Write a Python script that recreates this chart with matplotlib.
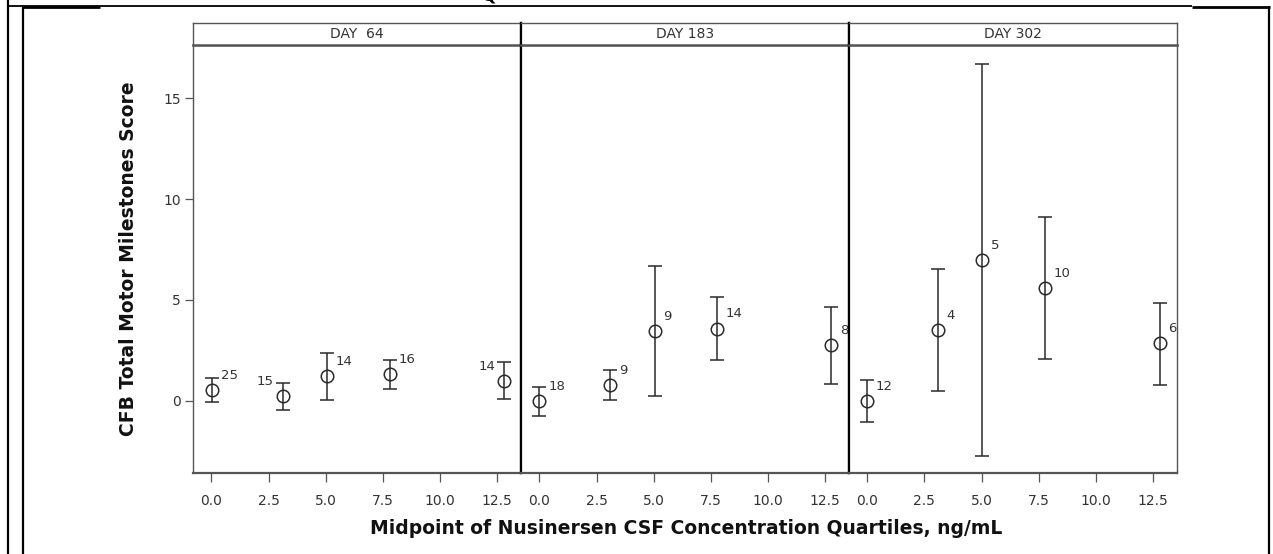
import matplotlib
matplotlib.use("Agg")
import matplotlib.pyplot as plt
from matplotlib.lines import Line2D

# ---------------- data ----------------
panels = ["DAY  64", "DAY 183", "DAY 302"]

x_day64 = [0.03, 3.12, 5.05, 7.82, 12.80]
y_day64 = [0.54, 0.21, 1.24, 1.34, 1.00]
lo_day64 = [-0.08, -0.45, 0.05, 0.59, 0.10]
hi_day64 = [1.12, 0.87, 2.39, 2.03, 1.90]
n_day64 = ["25", "15", "14", "16", "14"]
side_day64 = ["r", "l", "r", "r", "l"]

x_day183 = [0.00, 3.10, 5.04, 7.78, 12.78]
y_day183 = [-0.03, 0.79, 3.47, 3.58, 2.76]
lo_day183 = [-0.78, 0.05, 0.21, 2.03, 0.81]
hi_day183 = [0.68, 1.53, 6.70, 5.13, 4.67]
n_day183 = ["18", "9", "9", "14", "8"]
side_day183 = ["r", "r", "r", "r", "r"]

x_day302 = [0.00, 3.09, 5.03, 7.79, 12.79]
y_day302 = [0.00, 3.51, 6.98, 5.58, 2.84]
lo_day302 = [-1.04, 0.46, -2.72, 2.08, 0.79]
hi_day302 = [1.04, 6.53, 16.70, 9.11, 4.87]
n_day302 = ["12", "4", "5", "10", "6"]
side_day302 = ["r", "r", "r", "r", "r"]

xticks = [0.0, 2.5, 5.0, 7.5, 10.0, 12.5]
xticklabels = ["0.0", "2.5", "5.0", "7.5", "10.0", "12.5"]
yticks = [0, 5, 10, 15]
yticklabels = ["0", "5", "10", "15"]

ylabel = "CFB Total Motor Milestones Score"
xlabel = "Midpoint of Nusinersen CSF Concentration Quartiles, ng/mL"

series = [
    (x_day64, y_day64, lo_day64, hi_day64, n_day64, side_day64),
    (x_day183, y_day183, lo_day183, hi_day183, n_day183, side_day183),
    (x_day302, y_day302, lo_day302, hi_day302, n_day302, side_day302),
]

# ---------------- layout ----------------
W, H = 1273, 554
fig = plt.figure(figsize=(W / 100, H / 100), dpi=100)
plt.rcParams['font.family'] = ['DejaVu Sans']

def fx(px):
    return px / W

def fy(py):
    return 1 - py / H

lefts = [193.2, 521.1, 849.0]
pw = 327.9
top, bottom = 44.5, 472.7
strip_top = 22.7

TXT = "#333333"
EDGE = "#555555"
MARK = "#2a2a2a"

axes = []
for i, (lx, (xs, ys, lo, hi, ns, sides)) in enumerate(zip(lefts, series)):
    ax = fig.add_axes([fx(lx), fy(bottom), pw / W, (bottom - top) / H])
    axes.append(ax)
    ax.set_xlim(-0.8, 13.55)
    ax.set_ylim(-3.57, 17.67)
    yerr = [[y - l for y, l in zip(ys, lo)], [h - y for y, h in zip(ys, hi)]]
    ax.errorbar(xs, ys, yerr=yerr, fmt='o', mfc='none', mec=MARK, ms=9,
                mew=1.1, ecolor=MARK, elinewidth=1.1, capsize=4.7,
                capthick=1.1, color=MARK, zorder=3)
    for x, y, n, s in zip(xs, ys, ns, sides):
        if s == "r":
            ax.annotate(n, (x, y), xytext=(6.3, 5.8), textcoords='offset points',
                        ha='left', va='bottom', fontsize=9.5, color=TXT)
        else:
            ax.annotate(n, (x, y), xytext=(-6.3, 5.8), textcoords='offset points',
                        ha='right', va='bottom', fontsize=9.5, color=TXT)
    ax.set_xticks(xticks)
    ax.set_xticklabels(xticklabels)
    ax.tick_params(axis='x', direction='out', length=6.3, width=0.9,
                   color=EDGE, labelcolor=TXT, labelsize=10, pad=9)
    if i == 0:
        ax.set_yticks(yticks)
        ax.set_yticklabels(yticklabels)
        ax.tick_params(axis='y', direction='out', length=6, width=0.9,
                       color=EDGE, labelcolor=TXT, labelsize=10, pad=3)
    else:
        ax.set_yticks([])
    for sp in ax.spines.values():
        sp.set_color(EDGE)
        sp.set_linewidth(1.0)
    ax.spines['bottom'].set_linewidth(1.6)
    if i > 0:
        ax.spines['left'].set_color('black')
        ax.spines['left'].set_linewidth(1.6)
    if i < 2:
        ax.spines['right'].set_color('black')
        ax.spines['right'].set_linewidth(1.6)

    # strip header
    sx = fig.add_axes([fx(lx), fy(top), pw / W, (top - strip_top) / H])
    sx.set_xticks([])
    sx.set_yticks([])
    for sp in sx.spines.values():
        sp.set_color(EDGE)
        sp.set_linewidth(1.0)
    sx.spines['bottom'].set_linewidth(1.8)
    if i > 0:
        sx.spines['left'].set_color('black')
        sx.spines['left'].set_linewidth(1.6)
    if i < 2:
        sx.spines['right'].set_color('black')
        sx.spines['right'].set_linewidth(1.6)
    sx.text(0.5, 0.5, panels[i], ha='center', va='center', fontsize=10,
            color=TXT, transform=sx.transAxes)

# axis titles
fig.text(fx(128), fy((top + bottom) / 2), ylabel, rotation=90, ha='center',
         va='center', fontsize=13.5, fontweight='bold', color='#111111')
fig.text(fx(686), fy(529), xlabel, ha='center', va='center', fontsize=13.5,
         fontweight='bold', color='#111111')

# page / table borders
def line(x0, y0, x1, y1, lw):
    fig.add_artist(Line2D([fx(x0), fx(x1)], [fy(y0), fy(y1)], color='black',
                          lw=lw, solid_capstyle='butt'))

line(7.5, 0, 7.5, H, 1.6)
line(22.7, 6, 22.7, H, 1.6)
line(7.5, 5.7, 1192, 5.7, 1.3)
line(22.7, 6.8, 100, 6.8, 2.0)
line(1192, 6.8, 1270, 6.8, 2.0)
line(1269, 6, 1269, H, 1.6)

# cut-off glyph of the text above (partly outside the page, as in the source)
fig.text(fx(489), fy(4.5), "Q", ha='center', va='bottom', fontsize=14,
         fontweight='bold', color='black')

fig.savefig("out.png", dpi=100)
